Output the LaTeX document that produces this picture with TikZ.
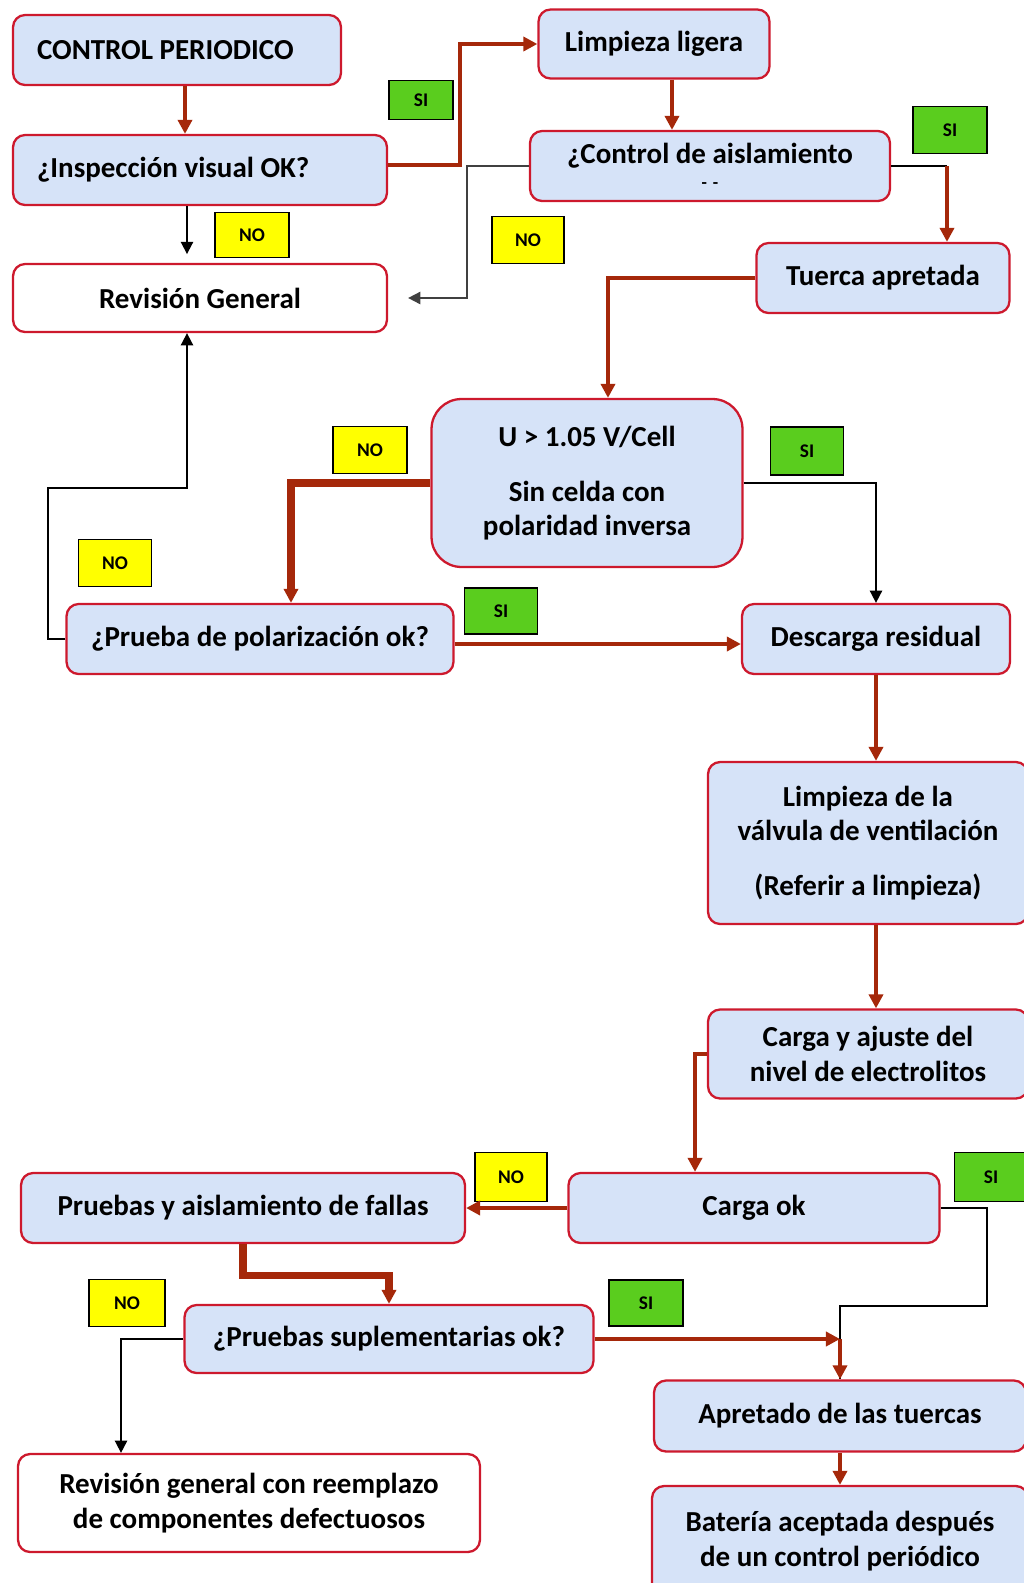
\documentclass[tikz,border=0pt]{standalone}
\usepackage{fontspec}
\setmainfont{Carlito}
\usetikzlibrary{arrows.meta, positioning}
\definecolor{boxfill}{RGB}{214,227,248}
\definecolor{boxline}{RGB}{205,25,45}
\definecolor{flowred}{RGB}{165,40,10}
\definecolor{siGreen}{RGB}{90,205,30}
\definecolor{noYellow}{RGB}{255,255,0}

\begin{document}
\begin{tikzpicture}[x=0.02cm, y=-0.02cm,
    stepbox/.style={draw=boxline, fill=boxfill, line width=1.3pt, rounded corners=0.24cm,
        font=\fontsize{16.5}{19.5}\selectfont\bfseries, align=center, inner sep=2pt},
    endbox/.style={stepbox, fill=white},
    sitag/.style={draw=black, fill=siGreen, line width=1pt, inner sep=0pt,
        font=\fontsize{11}{12}\selectfont\bfseries},
    notag/.style={sitag, fill=noYellow},
    redflow/.style={draw=flowred, line width=2.5pt, -{Triangle[length=8pt,width=8pt]}},
    blackflow/.style={draw=black, line width=1pt, -{Triangle[length=7pt,width=7pt]}},
    thinline/.style={draw=black, line width=1pt}]
\useasboundingbox (0,0) rectangle (1024,1583);

% === top left: start and visual check ===
\node[stepbox, minimum height=1.4cm, text width=5.6cm, inner xsep=0.48cm, align=flush left] (ctrl) at (177,50) {CONTROL PERIODICO};
\node[stepbox, minimum height=1.4cm, text width=6.52cm, inner xsep=0.48cm, align=flush left] (insp) at (200,170) {¿Inspección visual OK?};
\node[endbox, minimum width=7.48cm, minimum height=1.36cm] (revgen) at (200,298) {Revisión General};

% === top right ===
\node[stepbox, minimum width=4.62cm, minimum height=1.38cm] (limp) at (654,44) {Limpieza ligera};
\node[stepbox, minimum width=7.2cm, minimum height=1.4cm] (ctrlais) at (710,166) {¿Control de aislamiento\\[-5pt]{\fontsize{10}{8}\selectfont -\,\,-}};
\node[stepbox, minimum width=5.06cm, minimum height=1.4cm] (tuerca) at (883,278) {Tuerca apretada};

% === middle ===
\node[stepbox, rounded corners=0.6cm, minimum width=6.22cm, minimum height=3.36cm] (volt) at (587,483)
    {U > 1.05 V/Cell\\[12pt]Sin celda con\\polaridad inversa};
\node[stepbox, minimum width=7.74cm, minimum height=1.4cm] (polar) at (260,639) {¿Prueba de polarización ok?};
\node[stepbox, minimum width=5.36cm, minimum height=1.4cm] (descarga) at (876,639) {Descarga residual};
\node[stepbox, minimum width=6.4cm, minimum height=3.24cm] (valvula) at (868,843)
    {Limpieza de la\\válvula de ventilación\\[12pt](Referir a limpieza)};
\node[stepbox, minimum width=6.4cm, minimum height=1.78cm] (cargaaj) at (868,1054)
    {Carga y ajuste del\\nivel de electrolitos};

% === bottom ===
\node[stepbox, minimum width=7.42cm, minimum height=1.4cm] (cargaok) at (754,1208) {Carga ok};
\node[stepbox, minimum width=8.88cm, minimum height=1.4cm] (fallas) at (243,1208) {Pruebas y aislamiento de fallas};
\node[stepbox, minimum width=8.18cm, minimum height=1.36cm] (suplem) at (389,1339) {¿Pruebas suplementarias ok?};
\node[endbox, minimum width=9.24cm, minimum height=1.96cm] (reemplazo) at (249,1503)
    {Revisión general con reemplazo\\de componentes defectuosos};
\node[stepbox, minimum width=7.44cm, minimum height=1.42cm] (apretado) at (840,1416) {Apretado de las tuercas};
\node[stepbox, minimum width=7.52cm, minimum height=2.2cm] (bateria) at (840,1541)
    {Batería aceptada después\\de un control periódico};

% === SI / NO tags ===
\node[sitag, minimum width=1.28cm, minimum height=0.78cm] (si1) at (421,100) {SI};
\node[notag, minimum width=1.48cm, minimum height=0.9cm] (no1) at (252,235) {NO};
\node[sitag, minimum width=1.48cm, minimum height=0.94cm] (si2) at (950,130) {SI};
\node[notag, minimum width=1.44cm, minimum height=0.94cm] (no2) at (528,240) {NO};
\node[notag, minimum width=1.48cm, minimum height=0.94cm] (no3) at (370,450) {NO};
\node[sitag, minimum width=1.46cm, minimum height=0.96cm] (si3) at (807,451) {SI};
\node[notag, minimum width=1.46cm, minimum height=0.94cm] (no4) at (115,563) {NO};
\node[sitag, minimum width=1.46cm, minimum height=0.92cm] (si4) at (501,611) {SI};
\node[notag, minimum width=1.44cm, minimum height=0.98cm] (no5) at (511,1177) {NO};
\node[sitag, minimum width=1.46cm, minimum height=0.98cm] (si5) at (991,1177) {SI};
\node[notag, minimum width=1.52cm, minimum height=0.94cm] (no6) at (127,1303) {NO};
\node[sitag, minimum width=1.48cm, minimum height=0.92cm] (si6) at (646,1303) {SI};

% === connectors ===
\draw[redflow] ([xshift=0.16cm]ctrl.south) -- ([xshift=0.16cm]ctrl.south |- insp.north);
\draw[redflow] ([yshift=0.1cm]insp.east) -- ++(72,0) |- (limp.west);
\draw[blackflow, shorten >=5pt] ([xshift=-0.26cm]insp.south) -- ([xshift=-0.26cm]revgen.north);
\draw[blackflow, draw=black!75, shorten >=0.4cm] (ctrlais.west) -- ++(-62,0) |- (revgen.east);
\draw[redflow] ([xshift=0.36cm]limp.south) -- ([xshift=0.36cm]limp.south |- ctrlais.north);
\coordinate (aisTurn) at (947,166);
\draw[thinline] (ctrlais.east) -- (aisTurn);
\draw[redflow] (aisTurn) -- (aisTurn |- tuerca.north);
\draw[redflow] (tuerca.west) -| ([xshift=0.42cm]volt.north);
\draw[redflow, line width=4pt] (volt.west) -| ([xshift=0.62cm]polar.north);
\draw[blackflow] (volt.east) -| (descarga.north);
\draw[blackflow] (polar.west) -| (48,488) -| ([xshift=-0.26cm]revgen.south);
\draw[redflow] ([yshift=-0.1cm]polar.east) -- ([yshift=-0.1cm]descarga.west);
\draw[redflow] (descarga.south) -- (descarga.south |- valvula.north);
\draw[redflow] (descarga.south |- valvula.south) -- (descarga.south |- cargaaj.north);
\draw[redflow] (cargaaj.west) -| ([xshift=-1.18cm]cargaok.north);
\draw[redflow] (cargaok.west) -- (fallas.east);
\coordinate (okJoin) at (suplem.east -| apretado.north);
\draw[thinline] (cargaok.east) -| (987,1306) -| (apretado.north);
\draw[redflow, line width=4pt] (fallas.south) -- ++(0,31) -| (suplem.north);
\draw[redflow] (suplem.east) -- (okJoin);
\draw[redflow] (okJoin) -- (apretado.north);
\draw[blackflow] (suplem.west) -| ([xshift=-2.56cm]reemplazo.north);
\draw[redflow] (apretado.south) -- (bateria.north);
\end{tikzpicture}
\end{document}
